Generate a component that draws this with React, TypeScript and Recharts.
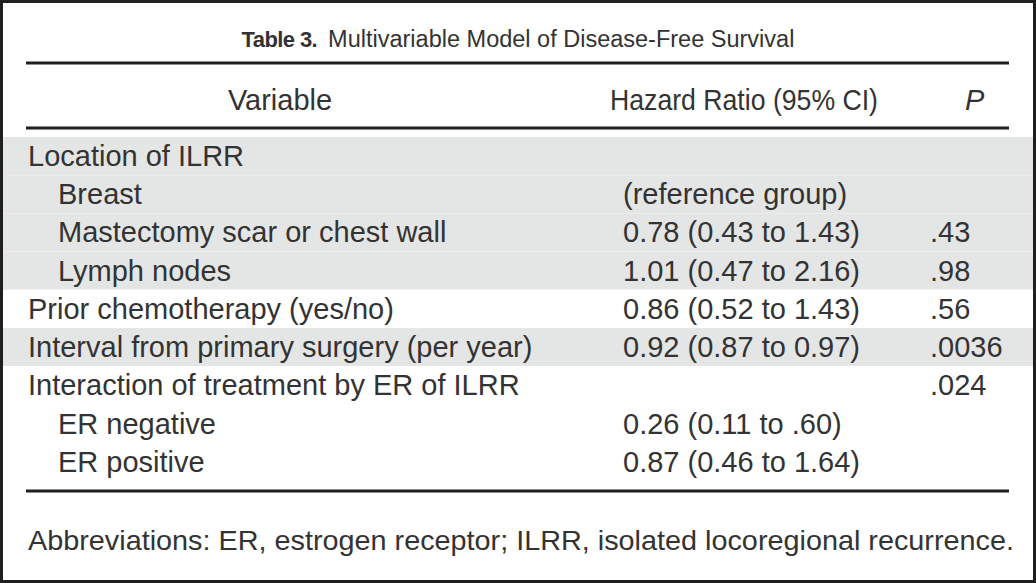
import { Bar, BarChart, Cell, Customized, XAxis, YAxis } from "recharts";

const variables = [
  "Location of ILRR",
  "Breast",
  "Mastectomy scar or chest wall",
  "Lymph nodes",
  "Prior chemotherapy (yes/no)",
  "Interval from primary surgery (per year)",
  "Interaction of treatment by ER of ILRR",
  "ER negative",
  "ER positive",
];
const indents = [0, 1, 1, 1, 0, 0, 0, 1, 1];
const hazardRatios = [
  "",
  "(reference group)",
  "0.78 (0.43 to 1.43)",
  "1.01 (0.47 to 2.16)",
  "0.86 (0.52 to 1.43)",
  "0.92 (0.87 to 0.97)",
  "",
  "0.26 (0.11 to .60)",
  "0.87 (0.46 to 1.64)",
];
const pValues = ["", "", ".43", ".98", ".56", ".0036", ".024", "", ""];
const shaded = [true, true, true, true, false, true, false, false, false];

const tableLabel = "Table 3.";
const title = "Multivariable Model of Disease-Free Survival";
const headers = ["Variable", "Hazard Ratio (95% CI)", "P"];
const footnote =
  "Abbreviations: ER, estrogen receptor; ILRR, isolated locoregional recurrence.";

const rows = variables.map((v, i) => ({
  variable: v,
  indent: indents[i],
  hr: hazardRatios[i],
  p: pValues[i],
  span: 1,
}));

const FONT = "'Liberation Sans', Arial, sans-serif";
const INK = "#333333";
const RULE = "#1f1f1f";
const GRAY = "#e4e5e5";
const textStyle = { fontFamily: FONT, fontSize: 29 };

// one bar per row: the band is the row, the text sits in it
function RowShape(props: any) {
  const { x, y, width, height, fill, payload } = props;
  const base = y + height / 2 + 10;
  return (
    <g>
      <rect x={x} y={y} width={width} height={height} fill={fill} />
      <text x={payload.indent ? 58 : 28} y={base} fill={INK} style={textStyle}>
        {payload.variable}
      </text>
      <text x={623} y={base} fill={INK} style={textStyle}>
        {payload.hr}
      </text>
      <text x={930} y={base} fill={INK} style={textStyle}>
        {payload.p}
      </text>
    </g>
  );
}

function TableFrame() {
  return (
    <g>
      <rect x={1.5} y={1.5} width={1033} height={580} fill="none" stroke={RULE} strokeWidth={3} />
      <text x={518} y={47} textAnchor="middle" fill={INK} style={{ fontFamily: FONT, fontSize: 23.5 }}>
        <tspan style={{ fontWeight: 700, fontSize: 22, letterSpacing: -0.6 }}>{tableLabel}</tspan>
        <tspan dx={11}>{title}</tspan>
      </text>
      <line x1={26} x2={1009} y1={63} y2={63} stroke={RULE} strokeWidth={3} />
      <text x={280} y={110} textAnchor="middle" fill={INK} style={textStyle}>
        {headers[0]}
      </text>
      <text
        x={610}
        y={110}
        fill={INK}
        textLength={268}
        lengthAdjust="spacingAndGlyphs"
        style={textStyle}
      >
        {headers[1]}
      </text>
      <text x={965} y={110} fill={INK} style={{ ...textStyle, fontStyle: "italic" }}>
        {headers[2]}
      </text>
      <line x1={26} x2={1009} y1={128} y2={128} stroke={RULE} strokeWidth={3} />
      <line x1={26} x2={1009} y1={491} y2={491} stroke={RULE} strokeWidth={3} />
      <text
        x={28}
        y={550}
        fill={INK}
        textLength={986}
        lengthAdjust="spacingAndGlyphs"
        style={{ fontFamily: FONT, fontSize: 28 }}
      >
        {footnote}
      </text>
    </g>
  );
}

export default function App() {
  return (
    <div style={{ position: "absolute", left: 0, top: 0, width: 1036, height: 583, background: "#fff" }}>
      <BarChart
        width={1036}
        height={583}
        data={rows}
        layout="vertical"
        barCategoryGap={0}
        margin={{ top: 137, right: 3, bottom: 102, left: 3 }}
      >
        <XAxis type="number" domain={[0, 1]} hide />
        <YAxis type="category" dataKey="variable" hide />
        <Bar dataKey="span" isAnimationActive={false} shape={RowShape}>
          {rows.map((_, i) => (
            <Cell key={i} fill={shaded[i] ? GRAY : "#ffffff"} />
          ))}
        </Bar>
        <Customized component={TableFrame} />
      </BarChart>
    </div>
  );
}
